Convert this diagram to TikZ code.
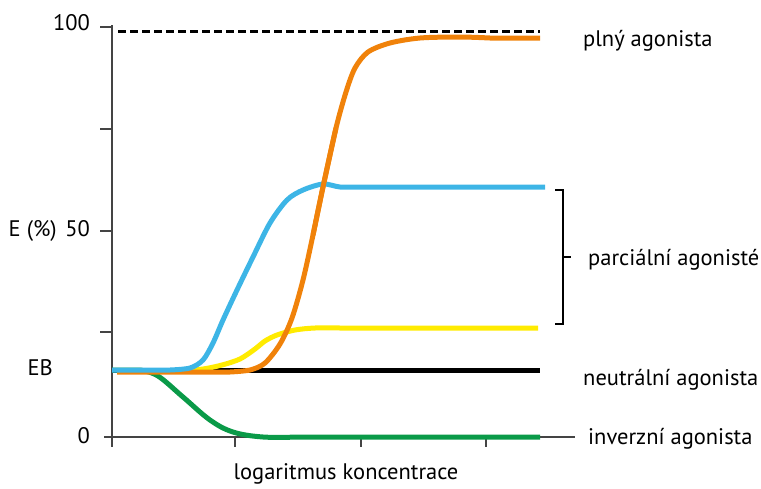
\documentclass[tikz,border=0pt]{standalone}
\usepackage{fontspec}
\setmainfont{PT Sans}
\definecolor{cblue}{HTML}{3DB5E6}
\definecolor{corange}{HTML}{F0820A}
\definecolor{cyellow}{HTML}{FFEB00}
\definecolor{cgreen}{HTML}{0A9A48}
\definecolor{caxis}{HTML}{444444}
\begin{document}
\begin{tikzpicture}[x=1pt,y=-1pt,
  lbl/.style={font=\fontsize{22.5}{24}\selectfont, inner sep=0pt},
  curve/.style={line width=5pt, line join=round, line cap=butt},
  axis/.style={draw=caxis, line width=1.5pt},
  tickline/.style={draw=caxis, line width=1.1pt}]
\useasboundingbox (0,0) rectangle (761,488);
% axes
\draw[axis] (112,25) -- (112,447);
\draw[axis] (104,437) -- (575,437);
\foreach \y in {27,129,231,332} \draw[tickline] (100,\y) -- (112,\y);
\foreach \x in {235,361,486} \draw[tickline] (\x,437) -- (\x,447);
% dashed 100 line
\draw[line width=3pt, dash pattern=on 8pt off 4pt] (118,31) -- (540,31);
% curves
\draw[curve, black] (112,370) -- (540,370);
\draw[curve, cgreen] (112,370) -- (140,370) plot[smooth, tension=0.6] coordinates {(140,370) (158,376) (183,397) (210,420) (233,432) (263,437) (300,437)} -- (540,437);
\draw[curve, cyellow] (117,371) -- (180,371) plot[smooth, tension=0.5] coordinates {(180,371) (203,369) (222,365) (240,359) (255,349) (265,341) (277,335) (295,330) (315,328) (340,328)} -- (538,328);
\draw[curve, corange] (117,372) -- (230,372) plot[smooth, tension=0.5] coordinates {(230,372) (250,370) (265,363) (280,344) (292,318) (303,280) (313,235) (323,187) (336,128) (346,92) (355,68) (368,52) (390,43) (420,38) (460,37) (490,38)} -- (540,38);
\draw[curve, cblue] (112,370) -- (170,370) plot[smooth, tension=0.5] coordinates {(170,370) (190,368) (203,360) (213,343) (223,320) (237,290) (253,257) (270,223) (287,200) (303,190) (323,184) (340,187) (360,187)} -- (545,187);
\draw[curve, corange] plot[smooth, tension=0.5] coordinates {(313,235) (323,187) (336,128)};
% bracket
\draw[line width=1.4pt] (555,190) -- (563,190) -- (563,324) -- (555,324);
\draw[line width=1.4pt] (563,257) -- (571,257);
% labels
\node[lbl, anchor=mid east] (l100) at (90,28) {100};
\node[lbl, anchor=mid east] (l50) at (90,234) {50};
\node[lbl, anchor=mid east] (lE) at (57,234) {E (\%)};
\node[lbl, anchor=mid east] (lEB) at (53,373) {EB};
\node[lbl, anchor=mid east] (l0) at (90,441) {0};
\node[lbl, anchor=mid west] (full) at (583,44) {plný agonista};
\node[lbl, anchor=mid west] (partial) at (588,263) {parciální agonisté};
\node[lbl, anchor=mid west] (neutral) at (583,383) {neutrální agonista};
\node[lbl, anchor=mid west] (inverse) at (588,442) {inverzní agonista};
\node[lbl, anchor=mid] (xlab) at (346,477) {logaritmus koncentrace};
\end{tikzpicture}
\end{document}
